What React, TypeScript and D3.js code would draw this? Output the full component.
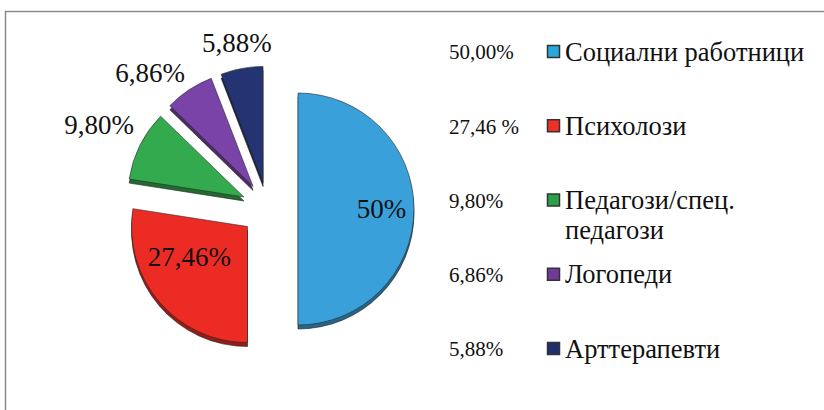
import React from "react";
import * as d3 from "d3";

const categories = ["Социални работници", "Психолози", "Педагози/спец. педагози", "Логопеди", "Арттерапевти"];
const legendLines = [["Социални работници"], ["Психолози"], ["Педагози/спец.", "педагози"], ["Логопеди"], ["Арттерапевти"]];
const values = [50, 27.46, 9.8, 6.86, 5.88];
const pieLabels = ["50%", "27,46%", "9,80%", "6,86%", "5,88%"];
const legendPercents = ["50,00%", "27,46 %", "9,80%", "6,86%", "5,88%"];
const colors = ["#3AA0DA", "#EC2C24", "#34AA4E", "#7A43A7", "#243371"];
const swatchColors = ["#29A8E0", "#EE3124", "#2BA24A", "#6F3A9A", "#1F2F6B"];

const W = 824;
const H = 410;
const FONT = '"Liberation Serif", "Times New Roman", serif';

export default function App() {
  const cx = 268;
  const cy = 209;
  const r = 116;
  const depth = 4;

  const pie = d3.pie<number>().sort(null).startAngle(0).endAngle(2 * Math.PI);
  const arcs = pie(values);
  const arc = d3.arc<d3.PieArcDatum<number>>().innerRadius(0).outerRadius(r);

  const slices = arcs.map((a, i) => {
    const mid = (a.startAngle + a.endAngle) / 2;
    const dx = Math.sin(mid);
    const dy = -Math.cos(mid);
    const explode = i === 0 ? 30 : 27;
    const ox = cx + dx * explode;
    const oy = cy + dy * explode;
    const inside = a.data >= 20;
    let lx: number, ly: number;
    if (inside) {
      const lr = explode + r * (i === 0 ? 0.72 : 0.66);
      lx = cx + dx * lr;
      ly = cy + dy * lr - (i === 1 ? 20 : 0);
    } else {
      const pad = 10 + Math.abs(dx) * 35 + Math.abs(dy) * 10;
      const lr = explode + r + pad;
      lx = cx + dx * lr;
      ly = cy + dy * lr;
      if (i === 3) {
        lx -= 18;
        ly += 14;
      }
    }
    return { a, i, ox, oy, lx, ly };
  });

  const rowY = d3.scaleLinear().domain([0, values.length - 1]).range([52, 349]);
  const textStyle = { fontFamily: FONT };

  return (
    <svg
      width={W}
      height={H}
      style={{ position: "absolute", left: 0, top: 0, background: "#fff", fontFamily: FONT }}
    >
      <rect x={0} y={0} width={W} height={H} fill="#fff" />
      <path d={`M5.5,${H} V11.5 H${W}`} fill="none" stroke="#8a8a8a" strokeWidth={1.5} />

      {slices.map((s) => (
        <path
          key={"side" + s.i}
          d={arc(s.a) || ""}
          transform={`translate(${s.ox},${s.oy + depth})`}
          fill={d3.color(colors[s.i])!.darker(1.3).toString()}
          stroke="#222"
          strokeWidth={0.6}
        />
      ))}
      {slices.map((s) => (
        <path
          key={"top" + s.i}
          d={arc(s.a) || ""}
          transform={`translate(${s.ox},${s.oy})`}
          fill={colors[s.i]}
          stroke="#2a2a2a"
          strokeWidth={0.6}
        />
      ))}
      {slices.map((s) => (
        <text
          key={"lbl" + s.i}
          x={s.lx}
          y={s.ly}
          dy="0.35em"
          textAnchor="middle"
          fontSize={27}
          fill="#111"
          style={textStyle}
        >
          {pieLabels[s.i]}
        </text>
      ))}

      {categories.map((c, i) => {
        const y = rowY(i);
        return (
          <g key={"leg" + i}>
            <text x={449} y={y} dy="0.35em" fontSize={21} fill="#111" style={textStyle}>
              {legendPercents[i]}
            </text>
            <rect
              x={547.5}
              y={y - 6.5}
              width={12}
              height={12}
              fill={swatchColors[i]}
              stroke="#333"
              strokeWidth={1.5}
            />
            {legendLines[i].map((line, j) => (
              <text key={j} x={565} y={y + j * 30} dy="0.33em" fontSize={26.5} fill="#111" style={textStyle}>
                {line}
              </text>
            ))}
          </g>
        );
      })}
    </svg>
  );
}
